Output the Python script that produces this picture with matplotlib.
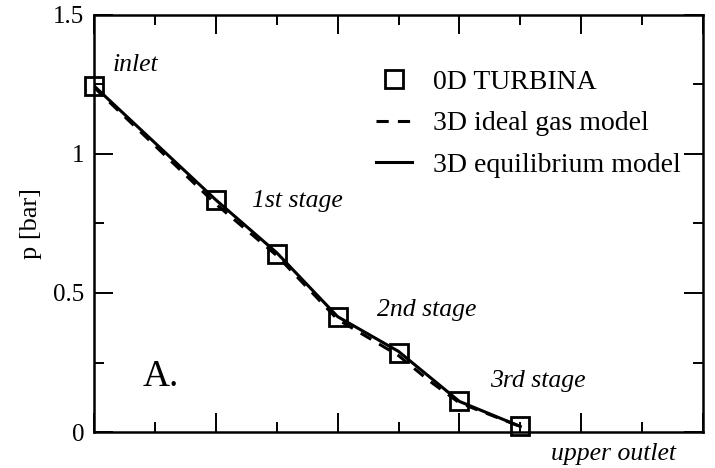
import matplotlib
matplotlib.use("Agg")
import matplotlib.pyplot as plt
from matplotlib.ticker import MultipleLocator

plt.rcParams['font.family'] = ['Liberation Serif', 'DejaVu Serif']

# Data
x_pos = [0, 2, 3, 4, 5, 6, 7]
p_turbina = [1.245, 0.835, 0.64, 0.414, 0.284, 0.112, 0.02]
x_ideal = [0, 1, 2, 3, 4, 5, 5.5, 6, 7]
p_ideal = [1.24, 1.03, 0.82, 0.635, 0.405, 0.275, 0.185, 0.105, 0.02]
x_equil = [0, 2, 3, 4, 5, 6, 7]
p_equil = [1.245, 0.835, 0.645, 0.415, 0.29, 0.11, 0.02]

labels = ["inlet", "1st stage", "2nd stage", "3rd stage", "upper outlet"]
label_xy = [(0.3, 1.32), (2.6, 0.83), (4.65, 0.44), (6.5, 0.185), (7.5, -0.08)]

fig = plt.figure(figsize=(7.15, 4.68), dpi=100)
ax = fig.add_axes([0.1315, 0.0769, 0.8517, 0.8911])

ax.plot(x_ideal, p_ideal, color='black', lw=2.2, ls=(0, (4, 3)), label='3D ideal gas model', zorder=2)
ax.plot(x_equil, p_equil, color='black', lw=2.2, ls='-', label='3D equilibrium model', zorder=3)
ax.plot(x_pos, p_turbina, ls='none', marker='s', markersize=12.5, markerfacecolor='none',
        markeredgecolor='black', markeredgewidth=2.0, label='0D TURBINA', zorder=4, clip_on=False)

ax.set_xlim(0, 10)
ax.set_ylim(0, 1.5)
ax.xaxis.set_major_locator(MultipleLocator(2))
ax.xaxis.set_minor_locator(MultipleLocator(1))
ax.yaxis.set_major_locator(MultipleLocator(0.5))
ax.yaxis.set_minor_locator(MultipleLocator(0.25))
ax.set_yticks([0, 0.5, 1, 1.5])
ax.set_yticklabels(['0', '0.5', '1', '1.5'])
ax.set_xticklabels([])
ax.tick_params(axis='both', which='both', direction='in', top=True, right=True, width=1.4)
ax.tick_params(axis='both', which='major', length=14, labelsize=18, pad=7)
ax.tick_params(axis='both', which='minor', length=7)
ax.tick_params(axis='x', which='both', labelbottom=False)
for s in ax.spines.values():
    s.set_linewidth(1.8)

ax.set_ylabel('p [bar]', fontsize=19, labelpad=8)

for t, (xx, yy) in zip(labels, label_xy):
    ax.text(xx, yy, t, fontsize=18.5, style='italic', ha='left', va='center', clip_on=False)

ax.text(0.8, 0.2, 'A.', fontsize=27, ha='left', va='center')

handles, labs = ax.get_legend_handles_labels()
order = [2, 0, 1]
leg = ax.legend([handles[i] for i in order], [labs[i] for i in order], loc='upper right',
                bbox_to_anchor=(0.982, 0.896), frameon=False, fontsize=20, handlelength=1.3,
                handletextpad=0.75, labelspacing=0.58, borderaxespad=0.0, borderpad=0.4)

fig.savefig('out.png', dpi=100)
